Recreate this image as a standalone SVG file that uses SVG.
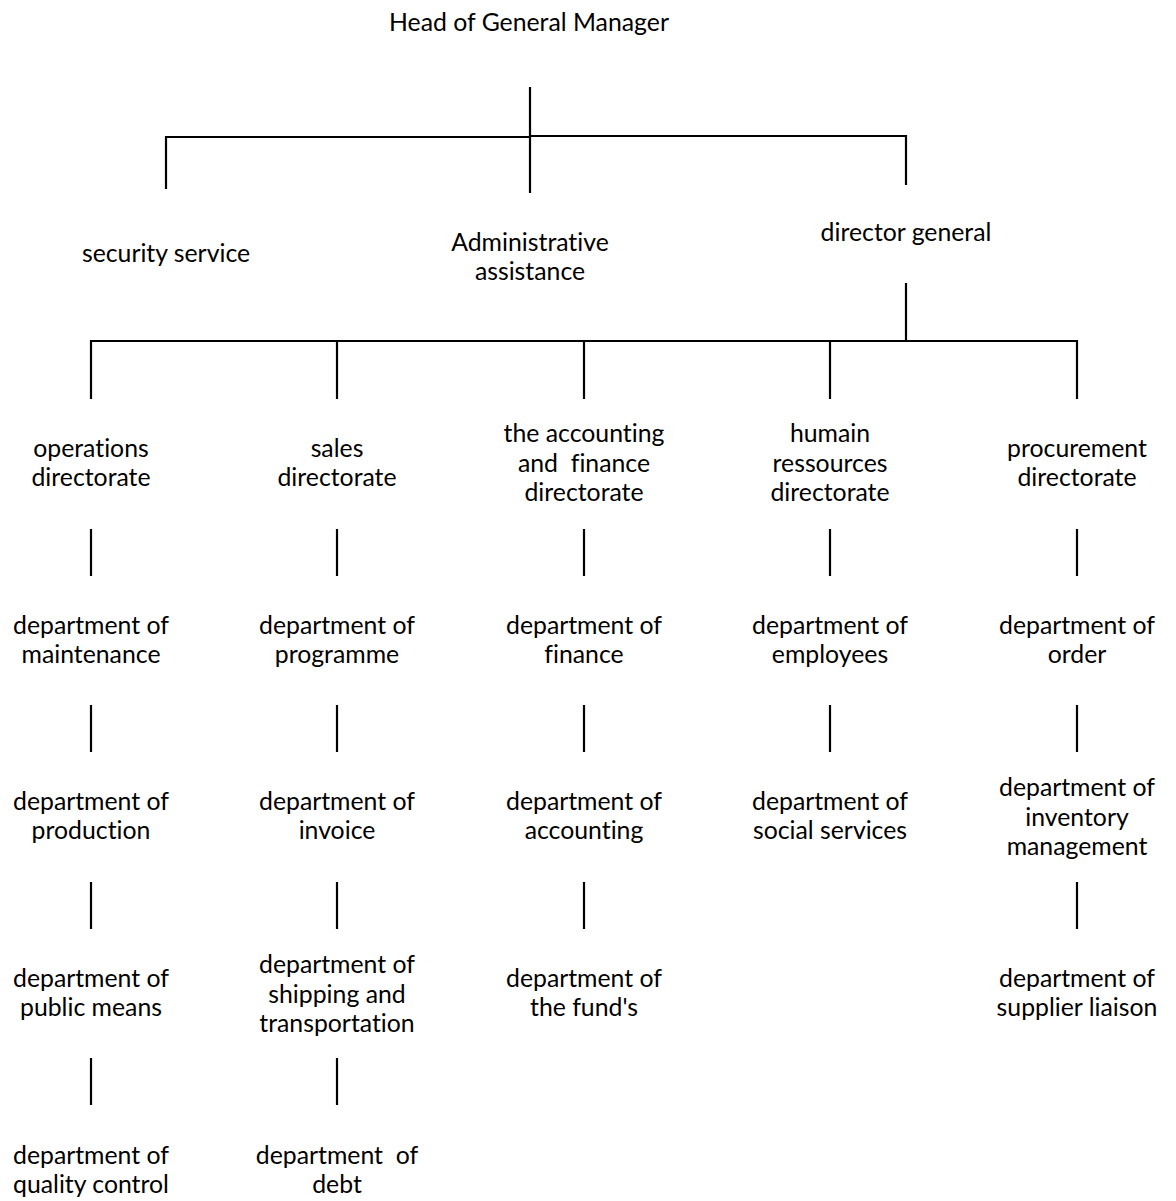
<svg xmlns="http://www.w3.org/2000/svg" width="1176" height="1201" viewBox="0 0 1176 1201">
<style>
text{font-family:Lato,"Liberation Sans",sans-serif;font-size:24.8px;fill:#000;text-anchor:middle;font-variant-ligatures:none;font-feature-settings:"liga" 0,"dlig" 0}
.c line{stroke:#000;stroke-width:2.2}
</style>
<rect width="1176" height="1201" fill="#fff"/>
<g class="c" id="connectors">
<line x1="530" y1="87" x2="530" y2="193"/>
<line x1="165" y1="137" x2="531" y2="137"/>
<line x1="529" y1="136" x2="907" y2="136"/>
<line x1="166" y1="136" x2="166" y2="189"/>
<line x1="906" y1="135" x2="906" y2="185"/>
<line x1="906" y1="283" x2="906" y2="342"/>
<line x1="90" y1="341" x2="1078" y2="341"/>
<line x1="91" y1="340" x2="91" y2="399"/>
<line x1="337" y1="340" x2="337" y2="399"/>
<line x1="584" y1="340" x2="584" y2="399"/>
<line x1="830" y1="340" x2="830" y2="399"/>
<line x1="1077" y1="340" x2="1077" y2="399"/>
<line x1="91" y1="529" x2="91" y2="576"/><line x1="91" y1="705" x2="91" y2="752"/><line x1="91" y1="882" x2="91" y2="929"/><line x1="91" y1="1058" x2="91" y2="1105"/>
<line x1="337" y1="529" x2="337" y2="576"/><line x1="337" y1="705" x2="337" y2="752"/><line x1="337" y1="882" x2="337" y2="929"/><line x1="337" y1="1058" x2="337" y2="1105"/>
<line x1="584" y1="529" x2="584" y2="576"/><line x1="584" y1="705" x2="584" y2="752"/><line x1="584" y1="882" x2="584" y2="929"/>
<line x1="830" y1="529" x2="830" y2="576"/><line x1="830" y1="705" x2="830" y2="752"/>
<line x1="1077" y1="529" x2="1077" y2="576"/><line x1="1077" y1="705" x2="1077" y2="752"/><line x1="1077" y1="882" x2="1077" y2="929"/>
</g>
<g id="head"><text x="529" y="31">Head of General Manager</text></g>
<g id="security"><text x="166" y="262">security service</text></g>
<g id="admin"><text x="530" y="251">Administrative</text><text x="530" y="280">assistance</text></g>
<g id="director"><text x="906" y="241">director general</text></g>
<g id="ops"><text x="91" y="457">operations</text><text x="91" y="486">directorate</text></g>
<g id="sales"><text x="337" y="457">sales</text><text x="337" y="486">directorate</text></g>
<g id="acc"><text x="584" y="442">the accounting</text><text x="584" y="472" xml:space="preserve">and  finance</text><text x="584" y="501">directorate</text></g>
<g id="hr"><text x="830" y="442">humain</text><text x="830" y="472">ressources</text><text x="830" y="501">directorate</text></g>
<g id="proc"><text x="1077" y="457">procurement</text><text x="1077" y="486">directorate</text></g>
<g id="maint"><text x="91" y="634">department of</text><text x="91" y="663">maintenance</text></g>
<g id="prod"><text x="91" y="810">department of</text><text x="91" y="839">production</text></g>
<g id="pub"><text x="91" y="987">department of</text><text x="91" y="1016">public means</text></g>
<g id="qual"><text x="91" y="1164">department of</text><text x="91" y="1193">quality control</text></g>
<g id="prog"><text x="337" y="634">department of</text><text x="337" y="663">programme</text></g>
<g id="inv"><text x="337" y="810">department of</text><text x="337" y="839">invoice</text></g>
<g id="ship"><text x="337" y="973">department of</text><text x="337" y="1003">shipping and</text><text x="337" y="1032">transportation</text></g>
<g id="debt"><text x="337" y="1164" xml:space="preserve">department  of</text><text x="337" y="1193">debt</text></g>
<g id="fin"><text x="584" y="634">department of</text><text x="584" y="663">finance</text></g>
<g id="accd"><text x="584" y="810">department of</text><text x="584" y="839">accounting</text></g>
<g id="fund"><text x="584" y="987">department of</text><text x="584" y="1016">the fund's</text></g>
<g id="emp"><text x="830" y="634">department of</text><text x="830" y="663">employees</text></g>
<g id="soc"><text x="830" y="810">department of</text><text x="830" y="839">social services</text></g>
<g id="order"><text x="1077" y="634">department of</text><text x="1077" y="663">order</text></g>
<g id="invm"><text x="1077" y="796">department of</text><text x="1077" y="826">inventory</text><text x="1077" y="855">management</text></g>
<g id="supp"><text x="1077" y="987">department of</text><text x="1077" y="1016">supplier liaison</text></g>
</svg>
